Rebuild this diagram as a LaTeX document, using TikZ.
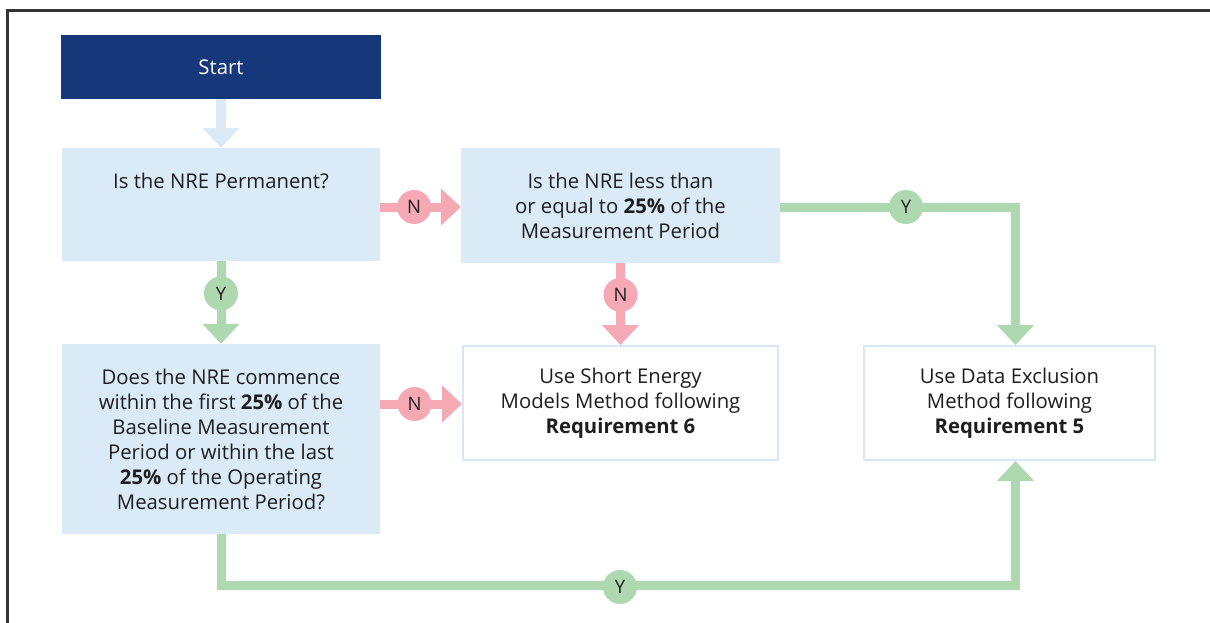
\documentclass[tikz,border=0pt]{standalone}
\usepackage{fontspec}
\setmainfont{Open Sans}
\usetikzlibrary{arrows.meta,calc}
\definecolor{navy}{HTML}{16387A}
\definecolor{lblue}{HTML}{DAEAF7}
\definecolor{bordblue}{HTML}{D6E7F6}
\definecolor{lgreen}{HTML}{ADD8B0}
\definecolor{lpink}{HTML}{F5A9B5}
\definecolor{framec}{HTML}{333333}
\definecolor{txt}{HTML}{1E1E1E}
\begin{document}
\begin{tikzpicture}[x=1pt,y=-1pt,
  every node/.style={text=txt},
  basebox/.style={inner sep=0pt, align=center, font=\fontsize{20.3}{25}\selectfont},
  qbox/.style={basebox, fill=lblue},
  rbox/.style={basebox, fill=white, draw=bordblue, line width=2pt},
  startbox/.style={basebox, fill=navy, text=white},
  conn/.style={line width=9pt, -{Triangle[length=20pt,width=36pt]}},
  gconn/.style={conn, draw=lgreen},
  pconn/.style={conn, draw=lpink},
  bconn/.style={conn, draw=lblue, line width=10pt},
  badge/.style={circle, minimum size=34pt, inner sep=0pt, font=\fontsize{18.5}{18.5}\selectfont, text=txt},
  gbadge/.style={badge, fill=lgreen},
  pbadge/.style={badge, fill=lpink}
]
\useasboundingbox (0,0) rectangle (1210,623);
\fill[white] (0,0) rectangle (1210,623);
\draw[framec, line width=2.5pt] (7.5,623) -- (7.5,10.5) -- (1210,10.5);

\node[startbox, minimum width=320pt, minimum height=64pt] (start) at (221,67) {Start};
\node[qbox, minimum width=318pt, minimum height=113pt] (q1) at (221,204.5) {Is the NRE Permanent?\\[-10pt] \strut\\ \strut};
\node[qbox, minimum width=319pt, minimum height=114pt] (q2) at (620.5,205.5) {Is the NRE less than\\ or equal to \textbf{25\%} of the\\ Measurement Period};
\node[qbox, minimum width=318pt, minimum height=190pt] (q3) at (221,439) {Does the NRE commence\\ within the first \textbf{25\%} of the\\ Baseline Measurement\\ Period or within the last\\ \textbf{25\%} of the Operating\\ Measurement Period?};
\node[rbox, minimum width=315pt, minimum height=114pt] (r6) at (620.5,403) {Use Short Energy\\ Models Method following\\ \textbf{Requirement 6}};
\node[rbox, minimum width=291pt, minimum height=114pt] (r5) at (1009.5,403) {Use Data Exclusion\\ Method following\\ \textbf{Requirement 5}};

\coordinate (r5in) at ($(r5.north)+(6,0)$);
\coordinate (r5in2) at ($(r5.south)+(6,0)$);
\coordinate (bend1) at (r5in |- 0,207);
\coordinate (bend2) at (221,585);
\coordinate (bend3) at (r5in2 |- bend2);

\draw[bconn] (start.south) -- (q1.north);
\draw[pconn] (q1.east |- 0,207) -- (q2.west |- 0,207) node[pbadge, pos=0.42] {N};
\draw[gconn] (q1.south) -- (q3.north) node[gbadge, pos=0.39] {Y};
\draw[pconn] (q2.south) -- (r6.north) node[pbadge, pos=0.39] {N};
\draw[pconn] (q3.east |- 0,404) -- (r6.west |- 0,404) node[pbadge, pos=0.42] {N};
\draw[gconn] (q2.east |- 0,207) -- (bend1) -- (r5in);
\node[gbadge] (yb1) at (906,207) {Y};
\draw[gconn] (q3.south) -- (bend2) -- (bend3) -- (r5in2);
\node[gbadge] (yb2) at (620,587) {Y};
\end{tikzpicture}
\end{document}
